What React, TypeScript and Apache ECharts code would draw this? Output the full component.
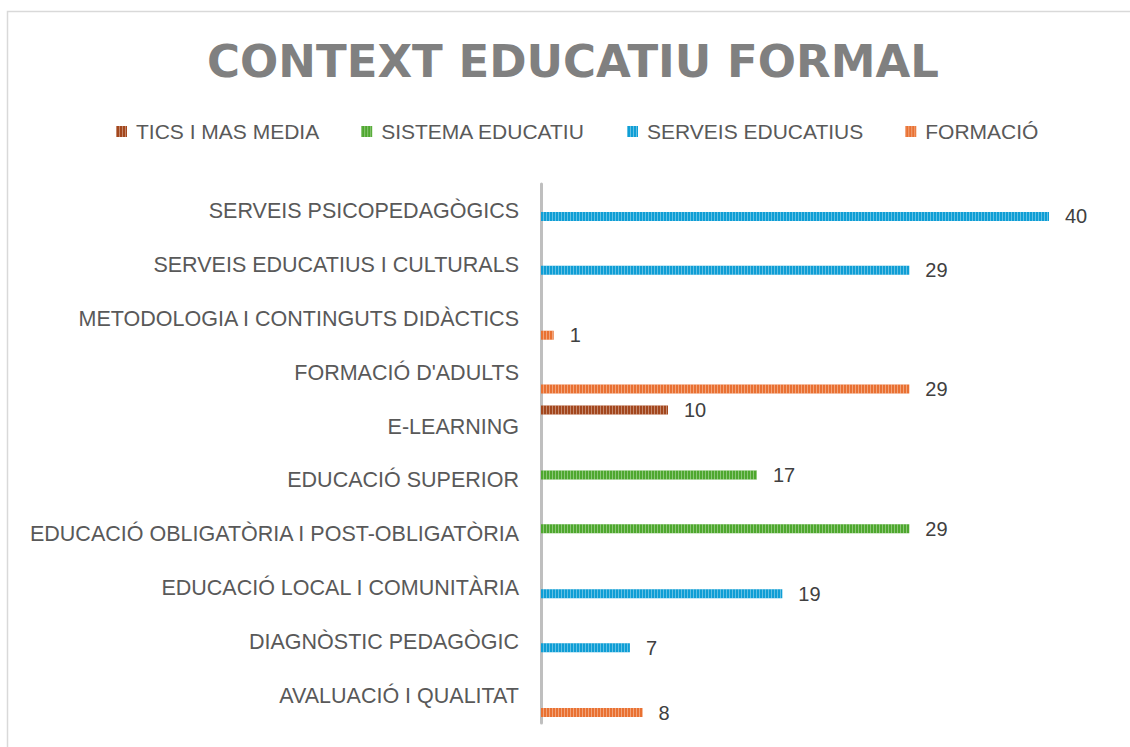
import React, { useEffect, useRef } from "react";
import * as echarts from "echarts";

const categories = [
  "AVALUACIÓ I QUALITAT",
  "DIAGNÒSTIC PEDAGÒGIC",
  "EDUCACIÓ LOCAL I COMUNITÀRIA",
  "EDUCACIÓ OBLIGATÒRIA I POST-OBLIGATÒRIA",
  "EDUCACIÓ SUPERIOR",
  "E-LEARNING",
  "FORMACIÓ D'ADULTS",
  "METODOLOGIA I CONTINGUTS DIDÀCTICS",
  "SERVEIS EDUCATIUS I CULTURALS",
  "SERVEIS PSICOPEDAGÒGICS",
];
const seriesNames = ["TICS I MAS MEDIA", "SISTEMA EDUCATIU", "SERVEIS EDUCATIUS", "FORMACIÓ"];
const ticsValues = [null, null, null, null, null, 10, null, null, null, null];
const sistemaValues = [null, null, null, 29, 17, null, null, null, null, null];
const serveisValues = [null, 7, 19, null, null, null, null, null, 29, 40];
const formacioValues = [8, null, null, null, null, null, 29, 1, null, null];
const titleText = "CONTEXT EDUCATIU FORMAL";

const colors = ["#A3471D", "#4EA72E", "#0F9ED5", "#E97132"];
const FONT = "Liberation Sans";

export default function App() {
  const ref = useRef<HTMLDivElement>(null);
  useEffect(() => {
    if (!ref.current) return;
    const chart = echarts.init(ref.current, undefined, { renderer: "svg" });
    const allValues = [ticsValues, sistemaValues, serveisValues, formacioValues];
    const decal = {
      symbol: "rect",
      symbolSize: 1,
      dashArrayX: [1, 2],
      dashArrayY: [1, 0],
      rotation: 0,
      color: "rgba(255,255,255,0.35)",
    };
    chart.setOption({
      animation: false,
      backgroundColor: "#ffffff",
      graphic: [
        {
          type: "rect",
          shape: { x: 7.5, y: 11.5, width: 1160, height: 800 },
          style: { fill: "none", stroke: "#d9d9d9", lineWidth: 1.5 },
          silent: true,
        },
        {
          type: "text",
          x: 573,
          y: 61,
          style: {
            text: titleText,
            fontFamily: "DejaVu Sans",
            fontWeight: "bold",
            fontSize: 45,
            fill: "#808080",
            align: "center",
            verticalAlign: "middle",
          },
        },
      ],
      legend: {
        data: seriesNames,
        left: 116,
        top: 121,
        padding: 0,
        itemWidth: 11,
        itemHeight: 11,
        itemGap: 42,
        icon: "rect",
        textStyle: {
          fontFamily: FONT,
          fontSize: 21,
          color: "#595959",
          padding: [0, 0, 0, 4],
        },
      },
      grid: { left: 541, right: 17.5, top: 184, bottom: 24, containLabel: false },
      xAxis: { type: "value", min: 0, max: 45, interval: 5, show: false },
      yAxis: {
        type: "category",
        data: categories,
        axisLine: { show: true, lineStyle: { color: "#bfbfbf", width: 3 } },
        axisTick: { show: false },
        axisLabel: { fontFamily: FONT, fontSize: 21.5, color: "#595959", margin: 22 },
      },
      series: seriesNames.map((name, i) => ({
        name,
        type: "bar",
        data: allValues[i],
        barWidth: 9,
        barGap: "22%",
        itemStyle: { color: colors[i], decal },
        label: {
          show: true,
          position: "right",
          distance: 16,
          fontFamily: FONT,
          fontSize: 20,
          color: "#404040",
        },
      })),
    });
    return () => chart.dispose();
  }, []);
  return (
    <div
      ref={ref}
      style={{ position: "fixed", left: 0, top: 0, width: 1130, height: 747 }}
    />
  );
}
